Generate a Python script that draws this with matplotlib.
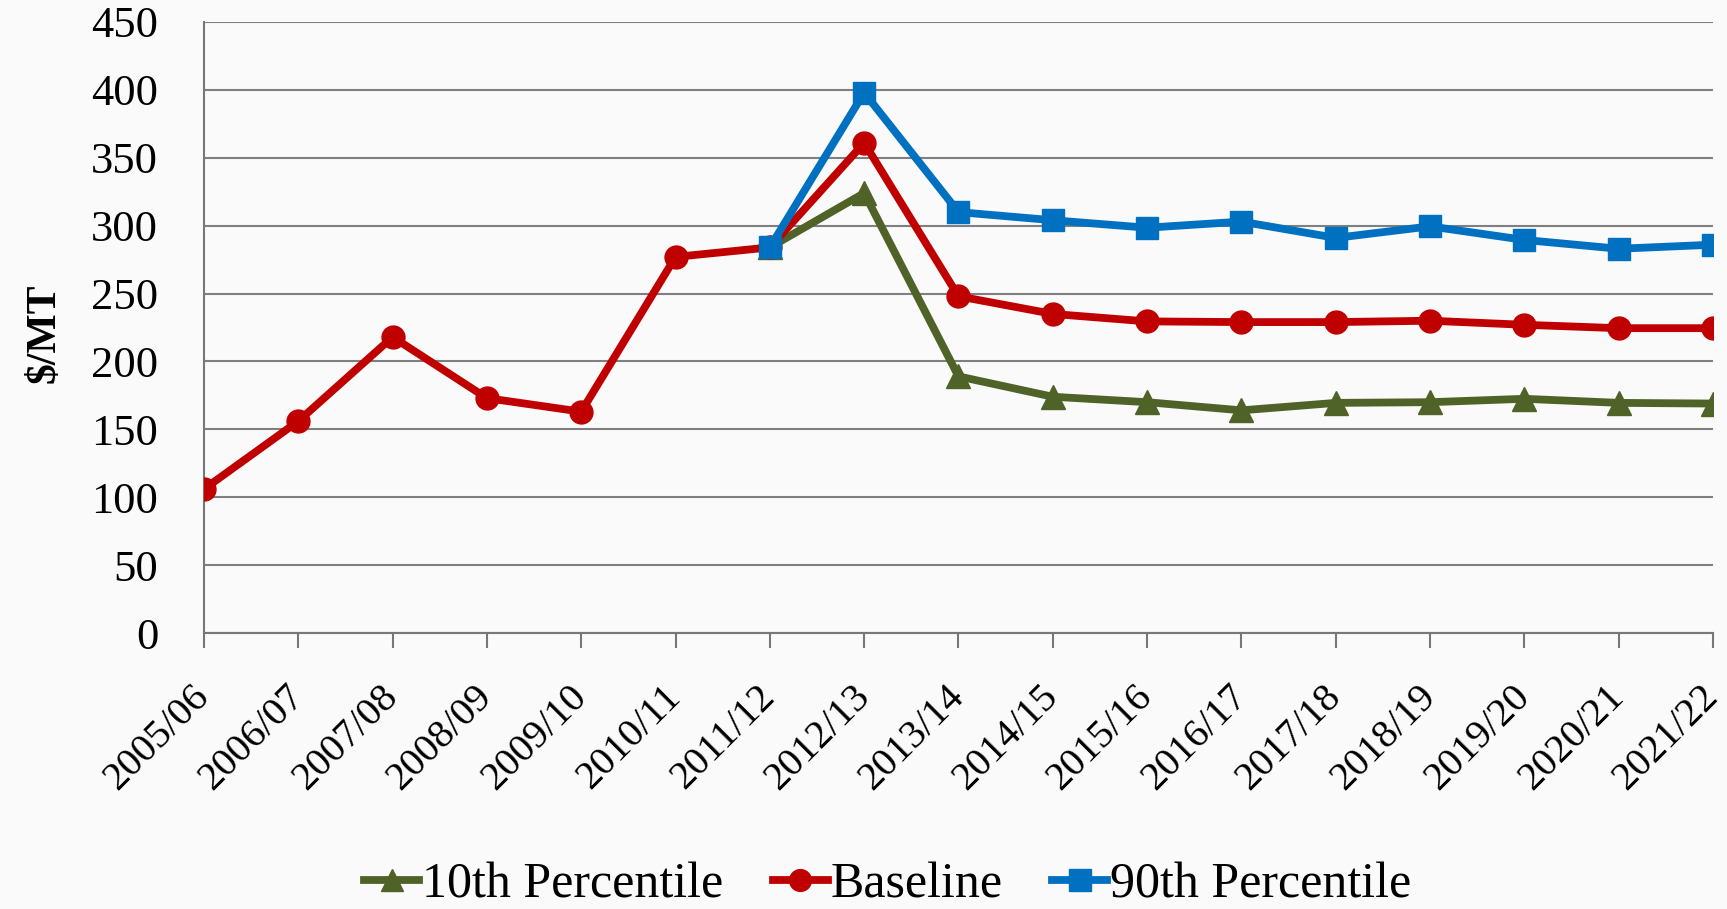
import matplotlib
matplotlib.use("Agg")
import matplotlib.pyplot as plt
import numpy as np

years = ["2005/06", "2006/07", "2007/08", "2008/09", "2009/10", "2010/11", "2011/12",
         "2012/13", "2013/14", "2014/15", "2015/16", "2016/17", "2017/18", "2018/19",
         "2019/20", "2020/21", "2021/22"]
baseline = [106, 156, 218, 173, 163, 277, 284, 361, 248, 235, 229.5, 229, 229, 230, 227, 224.5, 224.5]
p10_years = years[6:]
p10 = [284, 324, 189, 174, 170, 164, 169.5, 170, 172.5, 169.5, 169]
p90_years = years[6:]
p90 = [284, 398, 310, 304, 298.5, 303, 291, 299.5, 289.5, 283, 286]

yticks = list(range(0, 451, 50))

SERIF = ["Liberation Serif", "DejaVu Serif"]
bg = "#FAFAFA"

fig = plt.figure(figsize=(17.27, 9.09), dpi=100, facecolor=bg)
ax = fig.add_axes([0.1181, 0.3036, 0.9919 - 0.1181, 0.9758 - 0.3036], facecolor=bg)

x = np.arange(len(years))
idx10 = [years.index(y) for y in p10_years]
idx90 = [years.index(y) for y in p90_years]

green = "#4F6228"
red = "#C00000"
blue = "#0070C0"
lw = 5.6
ax.plot(idx10, p10, color=green, lw=lw, marker="^", ms=17, label="10th Percentile", zorder=3,
        solid_joinstyle="round")
ax.plot(x, baseline, color=red, lw=lw, marker="o", ms=16.5, label="Baseline", zorder=4,
        solid_joinstyle="round")
ax.plot(idx90, p90, color=blue, lw=lw, marker="s", ms=16, label="90th Percentile", zorder=5,
        solid_joinstyle="round")

ax.set_xlim(0, len(years) - 1)
ax.set_ylim(0, 450)
ax.set_yticks(yticks)
ax.set_yticklabels([str(v) for v in yticks], fontsize=32, family=SERIF)
ax.set_xticks(x)
ax.set_xticklabels(years, rotation=45, ha="right", va="center", rotation_mode="anchor",
                   fontsize=29, family=SERIF)
ax.tick_params(axis="x", length=11, width=1.5, color="#777777", pad=31)
ax.tick_params(axis="y", length=0, pad=33)
ax.grid(axis="y", color="#7F7F7F", lw=1.5)
ax.set_axisbelow(True)
for s in ["top", "right"]:
    ax.spines[s].set_visible(False)
for s in ["left", "bottom"]:
    ax.spines[s].set_color("#777777")
    ax.spines[s].set_linewidth(1.5)
ax.set_ylabel("$/MT", fontsize=30, fontweight="bold", family=SERIF)
ax.yaxis.set_label_coords(-0.093, 0.49)

leg = fig.legend(loc="center", bbox_to_anchor=(0.514, 0.026), ncol=3, frameon=False,
                 prop={"family": SERIF, "size": 36}, handlelength=1.1, handletextpad=0.05,
                 columnspacing=1.0, markerscale=0.95)

fig.savefig("out.png", dpi=100, facecolor=bg)
